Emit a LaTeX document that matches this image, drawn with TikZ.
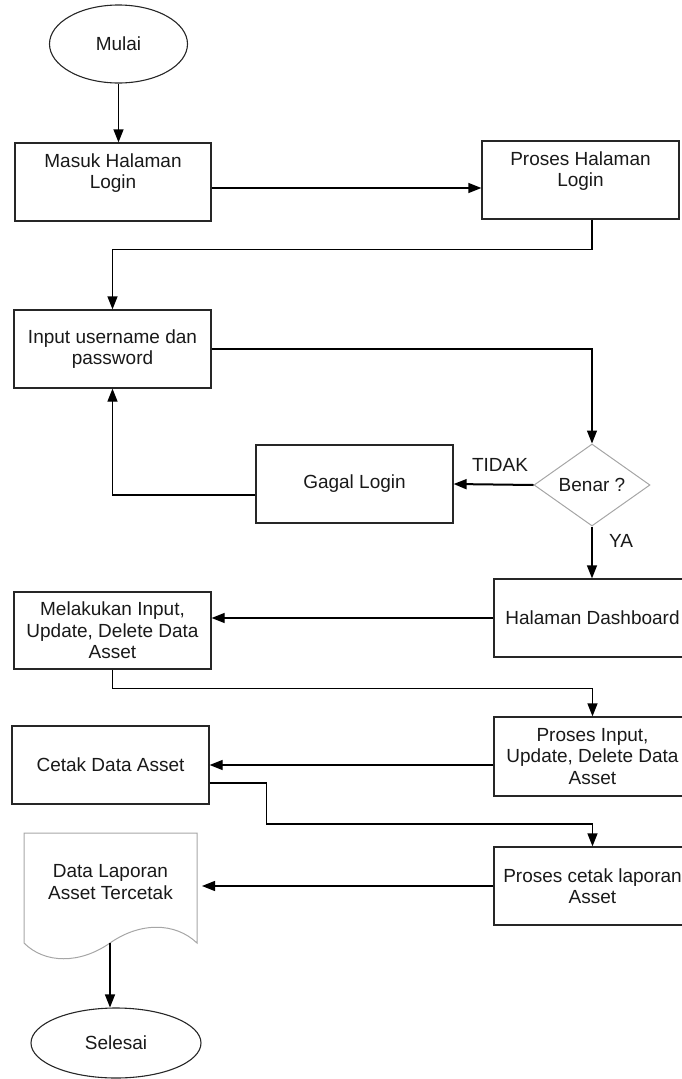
\documentclass[tikz,border=0pt]{standalone}
\usepackage{fontspec}
\setmainfont{Liberation Sans}
\usetikzlibrary{arrows.meta,shapes.geometric,calc}
\begin{document}
\begin{tikzpicture}[x=1pt,y=-1pt,
  every node/.style={font=\fontsize{19}{21.5}\selectfont, text=black!90},
  box/.style={draw=black!85, line width=1.3pt, rectangle, minimum width=197pt, minimum height=78pt, inner sep=0pt, align=center},
  term/.style={draw=black!85, line width=1.1pt, ellipse, inner sep=0pt},
  dec/.style={draw=black!35, line width=1pt, diamond, aspect=1.41, inner sep=0pt, minimum width=116pt, minimum height=82pt},
  conn/.style={draw=black, line width=1.3pt, -{Triangle[length=13pt,width=10pt]}},
  lbl/.style={inner sep=0pt}]
\useasboundingbox (0,0) rectangle (681,1079);

% nodes
\node[term, minimum width=138pt, minimum height=78pt] (mulai) at (118.5,44) {Mulai};
\node[box, minimum width=196pt] (masuk) at (113,182) {Masuk Halaman\\Login\\~};
\node[box] (ph) at (580.5,180) {Proses Halaman\\Login\\~};
\node[box] (input) at (112.5,349) {Input username dan\\password};
\node[dec] (bn) at (592,485) {Benar ?};
\node[box] (gagal) at (354.5,484) {Gagal Login};
\node[box] (dash) at (592.5,618) {Halaman Dashboard};
\node[box, minimum height=77pt] (mel) at (112.5,630.5) {Melakukan Input,\\Update, Delete Data\\Asset};
\node[box, minimum height=79pt] (pi) at (592.5,756.5) {Proses Input,\\Update, Delete Data\\Asset};
\node[box] (cetak) at (110.5,765) {Cetak Data Asset};
\node[box] (pc) at (592.5,886) {Proses cetak laporan\\Asset};
\draw[draw=black!35, line width=1pt] (24,833) -- (197,833) -- (197,943)
   .. controls (175,922) and (140,922) .. (110,943)
   .. controls (80,964) and (45,964) .. (24,943) -- cycle;
\node[align=center, inner sep=0pt] (doctext) at (110.5,882) {Data Laporan\\Asset Tercetak};
\node[term, minimum width=170pt, minimum height=70pt] (selesai) at (116,1043) {Selesai};

\coordinate (docr) at (202,886);
\coordinate (docb) at (110,943);

% labels
\node[lbl] (tidak) at (500,465) {TIDAK};
\node[lbl] (ya) at (621,541) {YA};

% connectors
\draw[conn] (mulai.south) -- (mulai.south |- masuk.north);
\coordinate (m1) at ($(masuk.east)+(0,6)$);
\draw[conn] (m1) -- (m1 -| ph.west);
\draw[conn] (ph.south -| bn.north) -- ++(0,30) -| (input.north);
\draw[conn] (input.east) -| (bn.north);
\draw[conn, line width=2pt] (bn.west) -- (gagal.east);
\coordinate (g1) at ($(gagal.west)+(0,11)$);
\draw[conn] (g1) -| (input.south);
\draw[conn] (bn.south) -- (bn.south |- dash.north);
\draw[conn] (dash.west) -- (dash.west -| mel.east);
\draw[conn] (mel.south) -- ++(0,19) -| (pi.north);
\draw[conn] (pi.west |- cetak.east) -- (cetak.east);
\coordinate (c1) at ($(cetak.east)+(0,18)$);
\draw[conn] (c1) -- ++(57,0) -- ++(0,41) -| (pc.north);
\draw[conn] (pc.west) -- (pc.west -| docr);
\draw[conn] (docb) -- (docb |- selesai.north);
\end{tikzpicture}
\end{document}
